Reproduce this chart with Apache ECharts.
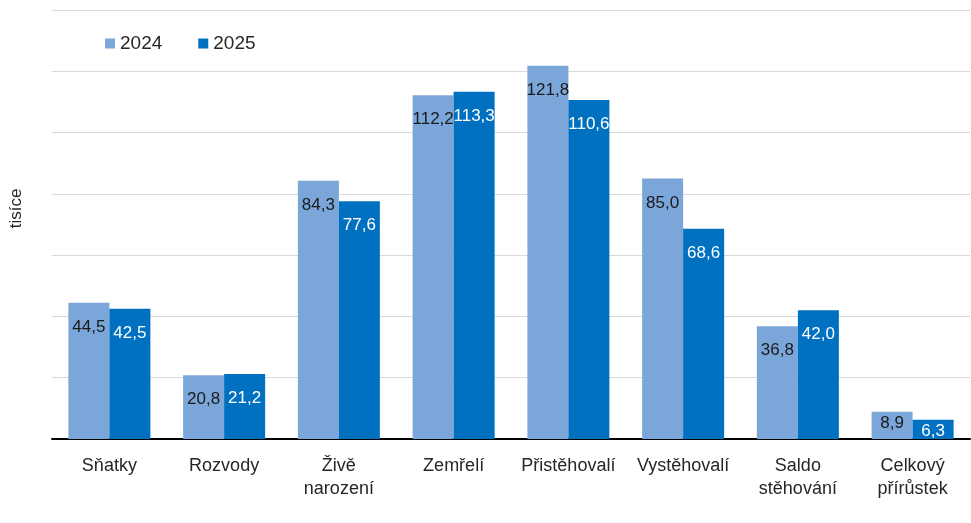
<!DOCTYPE html>
<html>
<head>
<meta charset="utf-8">
<script src="https://cdn.jsdelivr.net/npm/echarts@6/dist/echarts.min.js"></script>
<style>
  html, body { margin: 0; padding: 0; background: #fff; }
  #chart { width: 971px; height: 523px; }
</style>
</head>
<body>
<div id="chart"></div>
<script>
const categories = ["Sňatky", "Rozvody", "Živě\nnarození", "Zemřelí", "Přistěhovalí", "Vystěhovalí", "Saldo\nstěhování", "Celkový\npřírůstek"];
const values2024 = [44.5, 20.8, 84.3, 112.2, 121.8, 85.0, 36.8, 8.9];
const values2025 = [42.5, 21.2, 77.6, 113.3, 110.6, 68.6, 42.0, 6.3];

const fmt = v => v.toFixed(1).replace(".", ",");

// short bars keep the label closer to the top edge
function toItems(values) {
  return values.map(v => ({ value: v, label: { distance: v < 15 ? 3 : 16 } }));
}

const chart = echarts.init(document.getElementById("chart"));
chart.setOption({
  animation: false,
  textStyle: { fontFamily: "Liberation Sans, Arial, sans-serif" },
  grid: { left: 52, right: 1, top: 10, bottom: 84 },
  legend: {
    left: 100,
    top: 29,
    itemWidth: 10,
    itemHeight: 10,
    itemGap: 36,
    icon: "rect",
    textStyle: { fontSize: 19, color: "#262626" },
    data: ["2024", "2025"]
  },
  xAxis: {
    type: "category",
    data: categories,
    axisLine: { lineStyle: { color: "#000", width: 2 } },
    axisTick: { show: false },
    axisLabel: { fontSize: 18, color: "#262626", interval: 0, margin: 16, lineHeight: 23 }
  },
  yAxis: {
    type: "value",
    min: 0,
    max: 140,
    interval: 20,
    name: "tisíce",
    nameLocation: "middle",
    nameGap: 27,
    nameTextStyle: { fontSize: 17, color: "#262626", padding: [0, 0, 0, 32] },
    axisLabel: { show: false },
    axisLine: { show: false },
    axisTick: { show: false },
    splitLine: { lineStyle: { color: "#D9D9D9", width: 1 } }
  },
  series: [
    {
      name: "2024",
      type: "bar",
      data: toItems(values2024),
      barWidth: 41,
      barGap: "0%",
      itemStyle: { color: "#7BA6D9" },
      label: {
        show: true,
        position: "insideTop",
        fontSize: 17,
        color: "#1a1a1a",
        formatter: p => fmt(p.value)
      }
    },
    {
      name: "2025",
      type: "bar",
      data: toItems(values2025),
      barWidth: 41,
      barGap: "0%",
      itemStyle: { color: "#0070C0" },
      label: {
        show: true,
        position: "insideTop",
        fontSize: 17,
        color: "#fff",
        formatter: p => fmt(p.value)
      }
    }
  ]
});
</script>
</body>
</html>
